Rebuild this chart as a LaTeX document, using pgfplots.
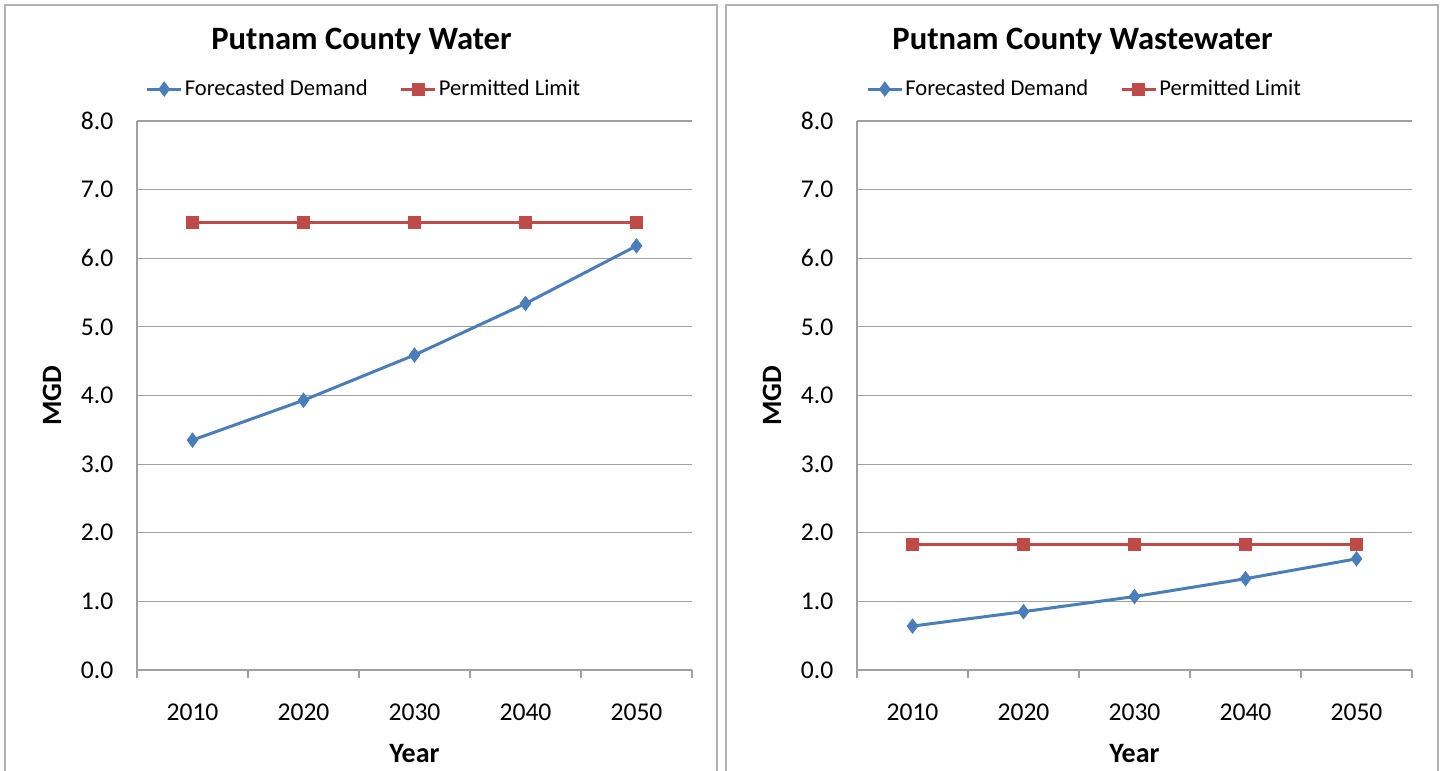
\documentclass[border=0pt]{standalone}
\usepackage{pgfplots}
\pgfplotsset{compat=1.18}
\usepackage{fontspec}
\setmainfont{Carlito}
\definecolor{sblue}{HTML}{4A7EBB}
\definecolor{sred}{HTML}{BE4B48}
\definecolor{gridc}{RGB}{160,160,160}
\definecolor{framec}{RGB}{178,178,178}
\pgfplotsset{
  every axis title shift=0pt,
  panel/.style={
    scale only axis, width=277.5pt, height=274.5pt,
    anchor=south west,
    xmin=0.5, xmax=5.5, ymin=0, ymax=8,
    axis x line*=bottom, axis y line*=left,
    axis line style={gridc, line width=0.6pt},
    xtick={1,2,3,4,5}, xticklabels={2010,2020,2030,2040,2050},
    minor xtick={0.5,1.5,2.5,3.5,4.5,5.5},
    major x tick style={draw=none},
    minor x tick style={gridc, line width=0.6pt},
    minor tick length=4pt, tick align=outside,
    ytick={0,1,...,8}, ytick style={draw=none},
    ymajorgrids, major grid style={gridc, line width=0.6pt},
    yticklabel={\pgfmathprintnumber[fixed,fixed zerofill,precision=1]{\tick}},
    /pgf/number format/assume math mode=true,
    ticklabel style={font=\fontsize{12.8}{15}\selectfont},
    yticklabel style={xshift=-4pt},
    xticklabel style={yshift=-9pt},
    xlabel={Year}, ylabel={MGD},
    label style={font=\fontsize{14}{16}\bfseries},
    xlabel style={at={(axis description cs:0.5,-0.153)}, anchor=center},
    ylabel style={at={(axis description cs:-0.153,0.5)}, anchor=center},
    title style={font=\fontsize{16.3}{19}\bfseries, anchor=center},
    legend style={draw=none, fill=none, anchor=center, legend columns=2,
      font=\fontsize{11.3}{13}\selectfont,
      /tikz/every even column/.append style={column sep=15pt},
      nodes={inner sep=1pt}},
    legend cell align=left,
    clip=false,
  },
  dem/.style={sblue, line width=1.5pt, mark=diamond*, mark size=3.5pt, mark options={solid, fill=sblue, draw=sblue, line width=0.5pt}},
  lim/.style={sred, line width=1.5pt, mark=square*, mark size=3pt, mark options={solid, fill=sred, draw=sred, line width=0.5pt}},
}
\begin{document}
\begin{tikzpicture}
\useasboundingbox (0,0) rectangle (721pt,385.5pt);
\draw[framec, line width=0.7pt] (2.5pt,-2pt) -- (2.5pt,383pt) -- (358.5pt,383pt) -- (358.5pt,-2pt);
\draw[framec, line width=0.7pt] (363pt,-2pt) -- (363pt,383pt) -- (719pt,383pt) -- (719pt,-2pt);
\begin{axis}[panel, at={(68.5pt,50.5pt)},
  title={Putnam County Water},
  title style={at={(axis description cs:0.4045,1.1455)}},
  legend style={at={(axis description cs:0.409,1.058)}}]
\addplot[dem] coordinates {(1,3.35) (2,3.93) (3,4.59) (4,5.34) (5,6.18)};
\addlegendentry{Forecasted Demand}
\addplot[lim] coordinates {(1,6.52) (2,6.52) (3,6.52) (4,6.52) (5,6.52)};
\addlegendentry{Permitted Limit}
\end{axis}
\begin{axis}[panel, at={(428.5pt,50.5pt)},
  title={Putnam County Wastewater},
  title style={at={(axis description cs:0.4063,1.1455)}},
  legend style={at={(axis description cs:0.410,1.058)}}]
\addplot[dem] coordinates {(1,0.64) (2,0.85) (3,1.07) (4,1.33) (5,1.62)};
\addlegendentry{Forecasted Demand}
\addplot[lim] coordinates {(1,1.83) (2,1.83) (3,1.83) (4,1.83) (5,1.83)};
\addlegendentry{Permitted Limit}
\end{axis}
\end{tikzpicture}
\end{document}
